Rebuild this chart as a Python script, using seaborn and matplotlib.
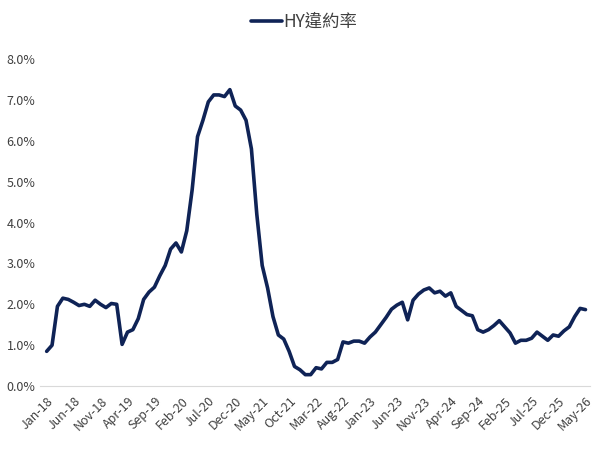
import numpy as np
import pandas as pd
import matplotlib
matplotlib.use('Agg')
import matplotlib.pyplot as plt
import seaborn as sns
from matplotlib.ticker import PercentFormatter

# datos (tasa de default HY, %)
meses = pd.date_range('2018-01-01', '2026-05-01', freq='MS').strftime('%b-%y').tolist()
tasa = [0.85, 1.00, 1.95, 2.15, 2.12, 2.05, 1.97, 2.00, 1.95, 2.10,
        2.00, 1.92, 2.02, 2.00, 1.02, 1.32, 1.38, 1.65, 2.12, 2.30,
        2.42, 2.70, 2.95, 3.35, 3.50, 3.28, 3.80, 4.80, 6.10, 6.50,
        6.95, 7.12, 7.12, 7.08, 7.25, 6.85, 6.75, 6.50, 5.80, 4.20,
        2.95, 2.40, 1.70, 1.25, 1.15, 0.85, 0.48, 0.40, 0.28, 0.28,
        0.45, 0.42, 0.58, 0.58, 0.65, 1.08, 1.05, 1.10, 1.10, 1.05,
        1.20, 1.32, 1.50, 1.68, 1.88, 1.98, 2.05, 1.62, 2.10, 2.25,
        2.35, 2.40, 2.28, 2.32, 2.20, 2.28, 1.95, 1.85, 1.75, 1.72,
        1.38, 1.32, 1.38, 1.48, 1.60, 1.45, 1.30, 1.05, 1.12, 1.12,
        1.17, 1.32, 1.22, 1.12, 1.25, 1.22, 1.35, 1.45, 1.70, 1.90,
        1.87]
serie = 'HY違約率'

df = pd.DataFrame({'mes': np.arange(len(meses)), 'tasa': tasa, 'serie': serie})

sns.set_style('white')
plt.rcParams['font.family'] = ['Noto Sans CJK TC', 'DejaVu Sans']

fig = plt.figure(figsize=(6, 4.5), dpi=100)
ax = fig.add_axes([0.067, 0.142, 0.916, 0.727])

sns.lineplot(data=df, x='mes', y='tasa', hue='serie', palette=['#0f2356'],
             linewidth=2.6, ax=ax)

ax.set_ylim(0, 8)
ax.set_yticks(np.arange(0, 9, 1))
ax.yaxis.set_major_formatter(PercentFormatter(decimals=1))
ax.set_xlim(-1.2, len(meses) - 0.2)
ax.set_xticks(np.arange(0, len(meses), 5))
ax.set_xticklabels(meses[::5], rotation=45, ha='right', rotation_mode='anchor')
ax.tick_params(axis='both', colors='#404040', labelsize=9, length=0)
ax.tick_params(axis='x', pad=6)
ax.set_xlabel('')
ax.set_ylabel('')
for s in ['top', 'right', 'left']:
    ax.spines[s].set_visible(False)
ax.spines['bottom'].set_color('#d9d9d9')

leg = ax.legend(loc='center', bbox_to_anchor=(0.48, 1.113), frameon=False,
                fontsize=12.5, handlelength=1.8, handletextpad=0.1)
for t in leg.get_texts():
    t.set_color('#404040')

plt.savefig('out.png', dpi=100)
